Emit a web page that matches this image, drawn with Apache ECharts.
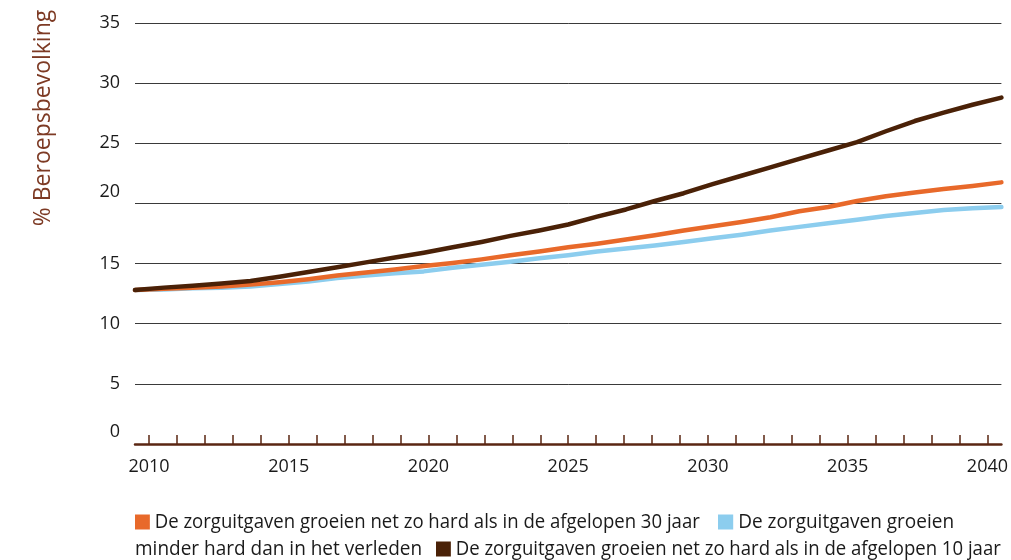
<!DOCTYPE html>
<html>
<head>
<meta charset="utf-8">
<script src="https://cdn.jsdelivr.net/npm/echarts@6/dist/echarts.min.js"></script>
<style>
html,body{margin:0;padding:0;background:#fff;}
#chart{width:1011px;height:560px;}
</style>
</head>
<body>
<div id="chart"></div>
<script>
var years = [2010,2011,2012,2013,2014,2015,2016,2017,2018,2019,2020,2021,2022,2023,2024,2025,2026,2027,2028,2029,2030,2031,2032,2033,2034,2035,2036,2037,2038,2039,2040];
var yearLabels = years.map(String);
var yTicks = [0,5,10,15,20,25,30,35];

var seriesNames = [
  'De zorguitgaven groeien net zo hard als in de afgelopen 30 jaar',
  'De zorguitgaven groeien minder hard dan in het verleden',
  'De zorguitgaven groeien net zo hard als in de afgelopen 10 jaar'
];
var orange30 = [12.8,12.9,13.0,13.1,13.25,13.45,13.7,14.0,14.25,14.5,14.8,15.05,15.35,15.7,16.0,16.35,16.65,17.0,17.35,17.75,18.1,18.45,18.85,19.35,19.7,20.2,20.6,20.9,21.2,21.45,21.75];
var blueLess = [12.8,12.85,12.95,13.0,13.1,13.3,13.5,13.8,14.0,14.2,14.35,14.65,14.9,15.15,15.45,15.7,16.0,16.25,16.5,16.8,17.1,17.4,17.75,18.05,18.35,18.65,18.95,19.2,19.45,19.6,19.7];
var brown10 = [12.8,13.0,13.15,13.35,13.55,13.9,14.3,14.7,15.1,15.5,15.9,16.35,16.8,17.3,17.75,18.25,18.9,19.5,20.2,20.85,21.6,22.3,23.0,23.7,24.4,25.1,26.0,26.85,27.55,28.2,28.8];

var colors = {orange:'#e8692a', blue:'#8ccdee', brown:'#4a2107'};

function pairs(arr){ return years.map(function(y,i){ return [y, arr[i]]; }); }

var chart = echarts.init(document.getElementById('chart'), null, {renderer:'canvas'});
var axisFont = 'Open Sans';
var legendFont = "'Open Sans', sans-serif";
var legSX = 0.95, legSXLong = 0.928;

chart.setOption({
  animation:false,
  backgroundColor:'#ffffff',
  grid:{left:135, right:9, top:23, bottom:116, containLabel:false},
  xAxis:[{
    type:'category',
    data: yearLabels,
    boundaryGap:true,
    axisLine:{show:true, lineStyle:{color:'#5a2612', width:2.5}},
    axisTick:{show:true, inside:true, length:9, alignWithLabel:true, interval:0, lineStyle:{color:'#5a2612', width:1.5}},
    axisLabel:{interval:4, margin:14, color:'#1a1a1a', fontFamily:axisFont, fontSize:18},
    splitLine:{show:false}
  },{
    type:'value',
    min:years[0], max:years[years.length-1],
    show:false
  }],
  yAxis:{
    type:'value',
    min:yTicks[0], max:yTicks[yTicks.length-1], interval:5,
    axisLine:{show:false},
    axisTick:{show:false},
    axisLabel:{
      margin:15, color:'#1a1a1a', fontFamily:axisFont, fontSize:18,
      formatter:function(v){ return (v===20||v===0) ? '{up|'+v+'}' : String(v); },
      rich:{up:{padding:[0,0,24,0], fontFamily:axisFont, fontSize:18, color:'#1a1a1a'}}
    },
    splitLine:{show:true, lineStyle:{color:'#3a3a3a', width:1}}
  },
  series:[
    {name:seriesNames[1], type:'line', xAxisIndex:1, data:pairs(blueLess), showSymbol:false, z:2,
     lineStyle:{color:colors.blue, width:4.5, cap:'round', join:'round'}, itemStyle:{color:colors.blue}},
    {name:seriesNames[0], type:'line', xAxisIndex:1, data:pairs(orange30), showSymbol:false, z:3,
     lineStyle:{color:colors.orange, width:4.5, cap:'round', join:'round'}, itemStyle:{color:colors.orange}},
    {name:seriesNames[2], type:'line', xAxisIndex:1, data:pairs(brown10), showSymbol:false, z:4,
     lineStyle:{color:colors.brown, width:4.5, cap:'round', join:'round'}, itemStyle:{color:colors.brown}}
  ],
  graphic:[
    {type:'text', x:43, y:118, rotation:Math.PI/2,
     style:{text:'% Beroepsbevolking', fill:'#7d3a24', font:"23px 'Open Sans'", textAlign:'center', textVerticalAlign:'middle'}},
    {type:'text', x:135, y:522, scaleX:legSXLong,
     style:{text:'{o|}{t| De zorguitgaven groeien net zo hard als in de afgelopen 30 jaar}', textVerticalAlign:'middle',
       rich:{o:{width:16,height:15,backgroundColor:colors.orange}, t:{fontFamily:legendFont, fontSize:20, fill:'#1a1a1a'}}}},
    {type:'text', x:718, y:522, scaleX:legSX,
     style:{text:'{o|}{t| De zorguitgaven groeien}', textVerticalAlign:'middle',
       rich:{o:{width:16,height:15,backgroundColor:colors.blue}, t:{fontFamily:legendFont, fontSize:20, fill:'#1a1a1a'}}}},
    {type:'text', x:135, y:549, scaleX:legSX,
     style:{text:'{t|minder hard dan in het verleden}', textVerticalAlign:'middle',
       rich:{t:{fontFamily:legendFont, fontSize:20, fill:'#1a1a1a'}}}},
    {type:'text', x:436, y:549, scaleX:legSXLong,
     style:{text:'{o|}{t| De zorguitgaven groeien net zo hard als in de afgelopen 10 jaar}', textVerticalAlign:'middle',
       rich:{o:{width:16,height:15,backgroundColor:colors.brown}, t:{fontFamily:legendFont, fontSize:20, fill:'#1a1a1a'}}}}
  ]
});
</script>
</body>
</html>
